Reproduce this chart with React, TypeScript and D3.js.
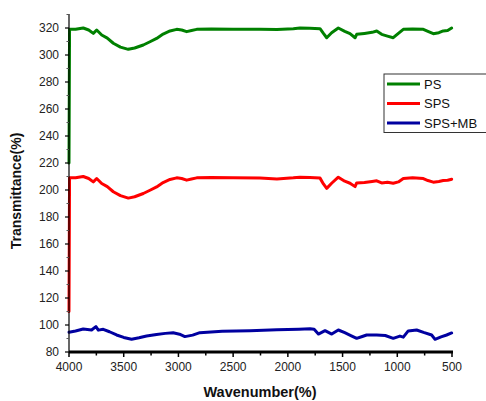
import React from "react";
import * as d3 from "d3";

// FTIR spectra (wavenumber in cm-1 style units, transmittance in %)
const psWave = [4000, 3995, 3940, 3870, 3820, 3778, 3747, 3701, 3650, 3595, 3530, 3458, 3400, 3321, 3260, 3199, 3140, 3077, 3016, 2970, 2925, 2880, 2833, 2700, 2500, 2255, 2100, 1950, 1889, 1800, 1706, 1675, 1645, 1600, 1539, 1480, 1432, 1386, 1371, 1300, 1230, 1188, 1143, 1090, 1037, 990, 945, 860, 762, 720, 671, 620, 580, 540, 503];
const psValues = [220, 319, 319, 320, 318.5, 316, 318.5, 314.8, 312.5, 308.7, 305.8, 304.2, 305.2, 307.4, 309.8, 312.3, 315.5, 317.8, 319, 318.5, 317.3, 318.2, 319, 319.2, 319, 319, 318.8, 319.5, 320, 319.8, 319.5, 316, 312.8, 316.5, 320, 317.5, 315.8, 312.8, 315.3, 316, 316.8, 317.8, 315.3, 314, 312.8, 316, 319, 319.2, 319, 317.5, 315.8, 316.5, 317.8, 318.2, 320];

const spsWave = [4000, 3995, 3940, 3870, 3820, 3778, 3747, 3701, 3650, 3595, 3530, 3458, 3400, 3321, 3260, 3199, 3140, 3077, 3016, 2970, 2925, 2880, 2833, 2700, 2500, 2255, 2100, 1950, 1889, 1800, 1706, 1675, 1645, 1600, 1539, 1480, 1432, 1386, 1371, 1300, 1230, 1188, 1143, 1090, 1037, 990, 945, 860, 762, 720, 671, 620, 580, 540, 503];
const spsValues = [110, 209, 209, 210, 208.5, 206, 208.5, 204.8, 202.5, 198.7, 195.8, 194, 195, 197.4, 199.8, 202.3, 205.5, 207.8, 209, 208.5, 207.3, 208.2, 209, 209.2, 209, 208.8, 208.2, 209, 209.5, 209.2, 208.8, 204.5, 201.2, 205, 209.5, 206.5, 205, 202.5, 205.2, 205.5, 206.3, 206.8, 205.2, 205.8, 205, 206, 208.5, 209, 208.5, 207, 205.8, 206.3, 207, 207.2, 208];

const mbWave = [4000, 3940, 3870, 3794, 3754, 3732, 3687, 3630, 3565, 3500, 3428, 3360, 3291, 3200, 3120, 3048, 2990, 2941, 2870, 2804, 2600, 2346, 2100, 1900, 1797, 1760, 1721, 1660, 1599, 1539, 1480, 1420, 1371, 1320, 1280, 1188, 1110, 1037, 976, 945, 900, 823, 760, 686, 655, 600, 549, 503];
const mbValues = [94.6, 95.5, 97, 96.3, 98.8, 96.2, 96.8, 95, 92.6, 90.8, 89.4, 90.5, 91.9, 93, 93.8, 94.3, 93.2, 91.4, 92.5, 94.3, 95.3, 95.8, 96.4, 96.9, 97.2, 96.8, 93.3, 95.8, 93.3, 96.3, 94.3, 92, 90.1, 91.5, 92.6, 92.6, 92.2, 90.1, 91.8, 91, 95.6, 96.3, 94.5, 92.6, 89.4, 91.2, 92.6, 94.1];

const seriesNames = ["PS", "SPS", "SPS+MB"];
const seriesColors = ["#008000", "#ff0000", "#0000a0"];

const xTicks = [4000, 3500, 3000, 2500, 2000, 1500, 1000, 500];
const yTicks = [80, 100, 120, 140, 160, 180, 200, 220, 240, 260, 280, 300, 320];

const W = 486;
const H = 401;
const left = 69;
const right = 452;
const top = 14;
const bottom = 352;

export default function App() {
  const x = d3.scaleLinear().domain([4000, 500]).range([left, right]);
  const y = d3.scaleLinear().domain([80, 330]).range([bottom, bottom - 250 * 1.35]);

  const line = d3
    .line<[number, number]>()
    .x((d) => x(d[0]))
    .y((d) => y(d[1]));

  const series = [
    { waves: psWave, values: psValues },
    { waves: spsWave, values: spsValues },
    { waves: mbWave, values: mbValues },
  ];

  const minorX = d3.range(3750, 500, -500);
  const minorY = d3.range(90, 331, 20);
  const font = "Arial, 'Liberation Sans', sans-serif";

  return (
    <svg
      width={W}
      height={H}
      style={{ position: "absolute", left: 0, top: 0, background: "#fff" }}
      fontFamily={font}
    >
      <rect width={W} height={H} fill="#fff" />
      {series.map((s, i) => (
        <path
          key={seriesNames[i]}
          d={line(s.waves.map((w, j) => [w, s.values[j]] as [number, number])) || ""}
          fill="none"
          stroke={seriesColors[i]}
          strokeWidth={3}
          strokeLinejoin="round"
          strokeLinecap="round"
        />
      ))}

      {/* Y axis */}
      <line x1={left} x2={left} y1={top} y2={bottom} stroke="#000" strokeWidth={1.2} />
      {yTicks.map((t) => (
        <g key={t}>
          <line x1={left - 4} x2={left} y1={y(t)} y2={y(t)} stroke="#000" strokeWidth={1.2} />
          <text x={left - 10} y={y(t)} dy="0.35em" textAnchor="end" fontSize={12} fill="#222">
            {t}
          </text>
        </g>
      ))}
      {minorY.map((t) => (
        <line key={t} x1={left - 2.5} x2={left} y1={y(t)} y2={y(t)} stroke="#555" strokeWidth={1} />
      ))}

      {/* X axis */}
      <line x1={left} x2={right + 1} y1={bottom} y2={bottom} stroke="#000" strokeWidth={3} />
      {xTicks.map((t) => (
        <g key={t}>
          <line x1={x(t)} x2={x(t)} y1={bottom} y2={bottom + 5} stroke="#000" strokeWidth={1.5} />
          <text x={x(t)} y={371} textAnchor="middle" fontSize={12} fill="#222">
            {t}
          </text>
        </g>
      ))}
      {minorX.map((t) => (
        <line key={t} x1={x(t)} x2={x(t)} y1={bottom} y2={bottom + 3.5} stroke="#000" strokeWidth={1.5} />
      ))}

      {/* Axis titles */}
      <text x={260} y={397} textAnchor="middle" fontSize={14.5} fontWeight="bold" fill="#111">
        Wavenumber(%)
      </text>
      <text
        transform={`translate(21,${(top + bottom) / 2 + 8}) rotate(-90)`}
        textAnchor="middle"
        fontSize={14}
        fontWeight="bold"
        fill="#111"
      >
        Transmittance(%)
      </text>

      {/* Legend */}
      <rect x={384} y={74} width={104} height={58.5} fill="#fff" stroke="#333" strokeWidth={1} />
      {seriesNames.map((n, i) => (
        <g key={n}>
          <line x1={387} x2={420} y1={84 + i * 19.5} y2={84 + i * 19.5} stroke={seriesColors[i]} strokeWidth={3} />
          <text x={424} y={84 + i * 19.5} dy="0.35em" fontSize={13} fill="#111">
            {n}
          </text>
        </g>
      ))}
    </svg>
  );
}
